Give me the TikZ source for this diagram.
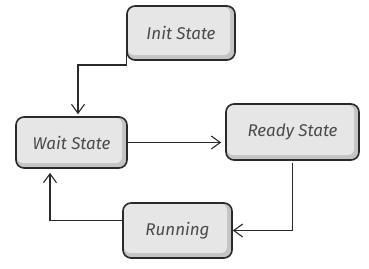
\documentclass[tikz,border=0pt]{standalone}
\usepackage{fontspec}
\setmainfont{Fira Sans}
\usetikzlibrary{arrows.meta}
\definecolor{boxlight}{HTML}{E6E6E6}
\definecolor{boxdark}{HTML}{C4C4C4}
\definecolor{inkc}{HTML}{2A2A2A}
\tikzset{
  statebox/.style={draw=inkc, line width=1.6pt, rounded corners=8pt, fill=boxdark,
    font=\fontsize{17}{19}\selectfont\itshape, text=inkc!85, inner sep=0pt,
    path picture={\fill[boxlight, rounded corners=6pt]
      ([shift={(1pt,-1pt)}]path picture bounding box.north west) rectangle
      ([shift={(-5pt,5pt)}]path picture bounding box.south east);}},
  conn/.style={draw=inkc, line width=1.1pt, -{Straight Barb[length=9pt,width=13pt,line width=1.1pt]}}
}
\begin{document}
\begin{tikzpicture}[x=1pt,y=-1pt]
\useasboundingbox (0,0) rectangle (369,268);
\node[statebox, minimum width=108pt, minimum height=54pt] (init) at (181,33) {Init State};
\node[statebox, minimum width=111pt, minimum height=51pt] (wait) at (71.5,142.5) {Wait State};
\node[statebox, minimum width=133pt, minimum height=56pt] (ready) at (292.5,132) {Ready State};
\node[statebox, minimum width=109pt, minimum height=55pt] (running) at (177.5,230.5) {Running};
\coordinate (c1) at (78,65);
\coordinate (c2) at (50,0);
\draw[conn, shorten >=2pt] ([yshift=-17pt]init.west) |- (c1) -- (c1 |- wait.north);
\draw[conn, shorten >=4pt] (wait.east) -- (ready.west |- wait.east);
\draw[conn, shorten <=2pt] (ready.south) |- (running.east);
\draw[conn, shorten >=4pt] ([yshift=10pt]running.west) -| (c2 |- wait.south);
\end{tikzpicture}
\end{document}
